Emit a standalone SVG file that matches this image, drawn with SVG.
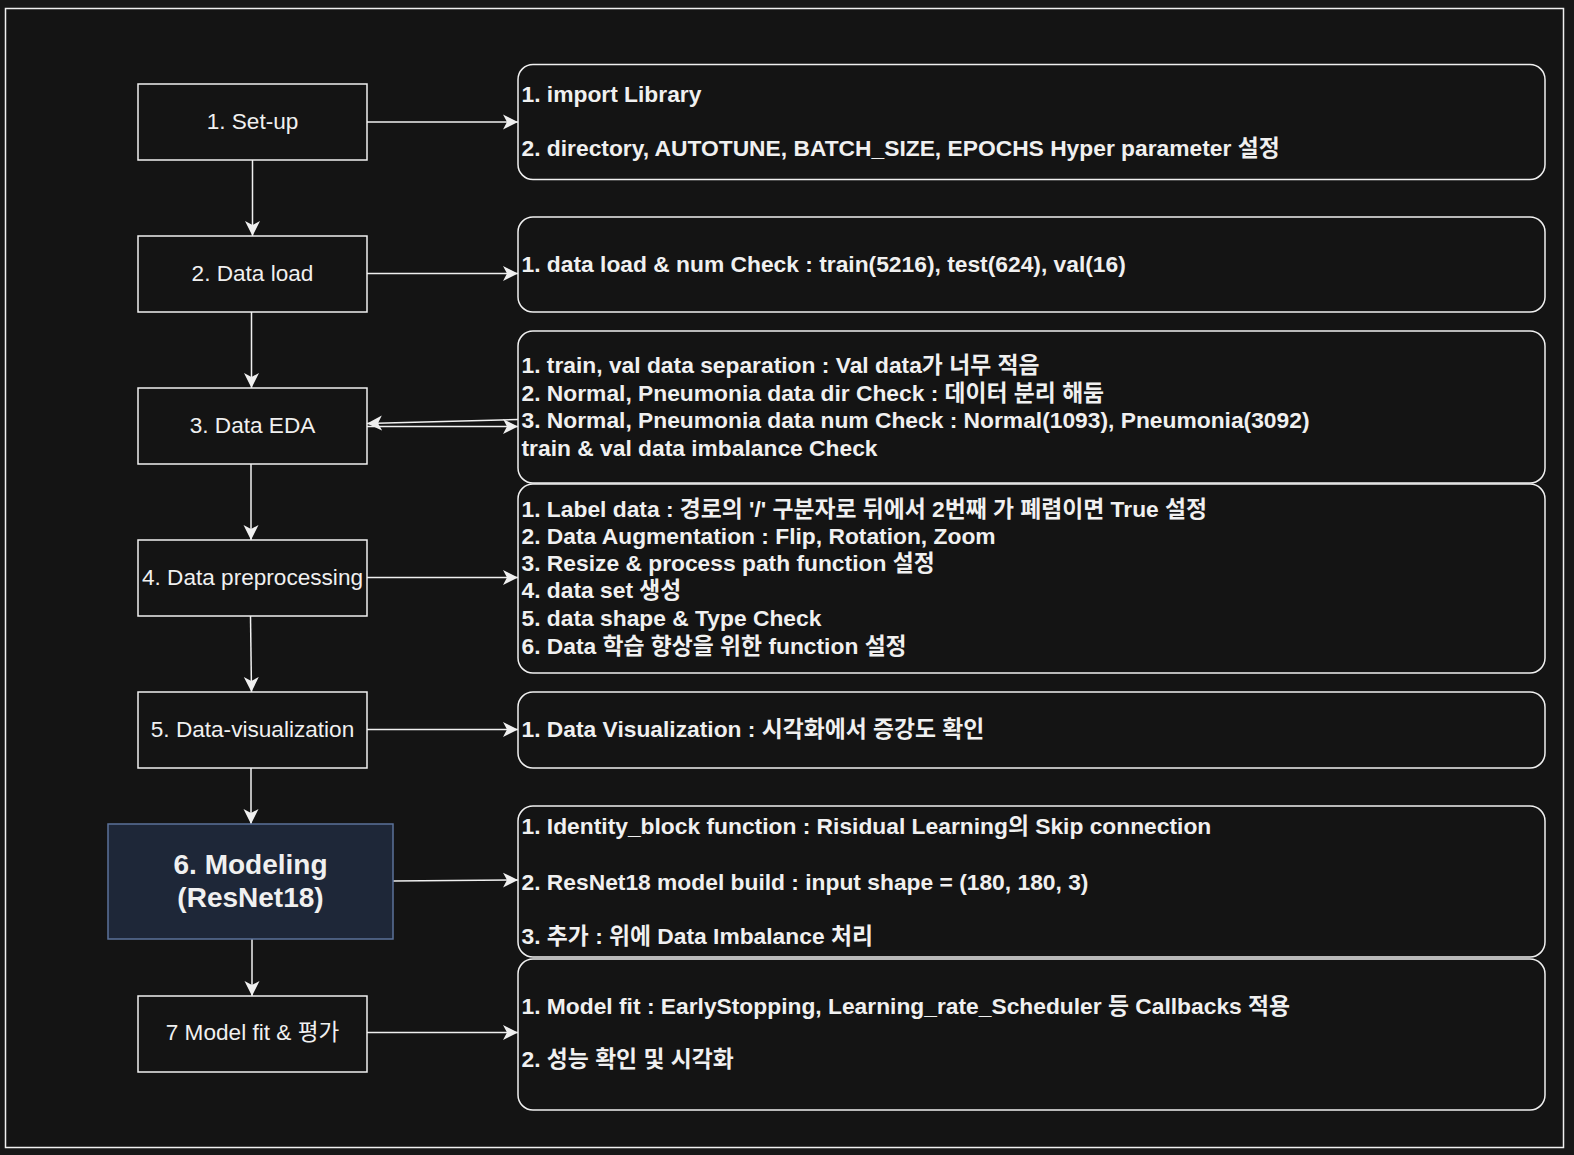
<svg xmlns="http://www.w3.org/2000/svg" width="1574" height="1155" viewBox="0 0 1574 1155">
<style>
.box{fill:#141414;stroke:#f0f0f0;stroke-width:1.5}
.rbox{fill:#141414;stroke:#f0f0f0;stroke-width:1.5}
.lt{font-family:"Liberation Sans","Noto Sans CJK KR",sans-serif;font-size:22.6px;fill:#f0f0f0;text-anchor:middle}
.rt{font-family:"Liberation Sans","Noto Sans CJK KR",sans-serif;font-size:22.8px;font-weight:bold;fill:#f0f0f0}
.edge{fill:none;stroke:#f0f0f0;stroke-width:1.5}
</style>
<defs>
<marker id="arr" viewBox="0 0 16 16" refX="15" refY="8" markerWidth="16" markerHeight="16" markerUnits="userSpaceOnUse" orient="auto">
<path d="M15,8 L0,0.5 L4,8 L0,15.5 Z" fill="#f0f0f0"/>
</marker>
</defs>
<rect x="0" y="0" width="1574" height="1155" fill="#171717"/>
<rect x="5.5" y="8.5" width="1558" height="1139" fill="#141414" stroke="#f0f0f0" stroke-width="1.5"/>

<g id="connectors">
<line class="edge" x1="252.5" y1="160" x2="252.5" y2="236" marker-end="url(#arr)"/>
<line class="edge" x1="251.5" y1="312" x2="251.5" y2="388" marker-end="url(#arr)"/>
<line class="edge" x1="251" y1="464" x2="251" y2="540" marker-end="url(#arr)"/>
<line class="edge" x1="250.5" y1="616" x2="251.5" y2="692" marker-end="url(#arr)"/>
<line class="edge" x1="251" y1="768" x2="251" y2="824" marker-end="url(#arr)"/>
<line class="edge" x1="252" y1="939" x2="252" y2="996" marker-end="url(#arr)"/>
<line class="edge" x1="367" y1="122" x2="518" y2="122" marker-end="url(#arr)"/>
<line class="edge" x1="367" y1="273.5" x2="518" y2="273.5" marker-end="url(#arr)"/>
<line class="edge" x1="518" y1="419.5" x2="367" y2="423.5" marker-end="url(#arr)"/>
<line class="edge" x1="367" y1="426.5" x2="518" y2="426.5" marker-end="url(#arr)"/>
<line class="edge" x1="367" y1="577.5" x2="518" y2="577.5" marker-end="url(#arr)"/>
<line class="edge" x1="367" y1="729.5" x2="518" y2="729.5" marker-end="url(#arr)"/>
<line class="edge" x1="393" y1="881" x2="518" y2="880" marker-end="url(#arr)"/>
<line class="edge" x1="367" y1="1032.5" x2="518" y2="1032.5" marker-end="url(#arr)"/>
</g>

<g id="n1"><rect class="box" x="138" y="84" width="229" height="76"/><text class="lt" x="252.5" y="129">1. Set-up</text></g>
<g id="n2"><rect class="box" x="138" y="236" width="229" height="76"/><text class="lt" x="252.5" y="281">2. Data load</text></g>
<g id="n3"><rect class="box" x="138" y="388" width="229" height="76"/><text class="lt" x="252.5" y="433">3. Data EDA</text></g>
<g id="n4"><rect class="box" x="138" y="540" width="229" height="76"/><text class="lt" x="252.5" y="585">4. Data preprocessing</text></g>
<g id="n5"><rect class="box" x="138" y="692" width="229" height="76"/><text class="lt" x="252.5" y="737">5. Data-visualization</text></g>
<g id="n6"><rect x="108" y="824" width="285" height="115" fill="#1e2738" stroke="#5b7299" stroke-width="1.5"/>
<text class="lt" x="250.5" y="874" style="font-size:28px;font-weight:bold">6. Modeling</text>
<text class="lt" x="250.5" y="907" style="font-size:28px;font-weight:bold">(ResNet18)</text></g>
<g id="n7"><rect class="box" x="138" y="996" width="229" height="76"/><text class="lt" x="252.5" y="1040">7 Model fit &amp; 평가</text></g>

<g id="r1"><rect class="rbox" x="518" y="64.5" width="1027" height="115" rx="15"/>
<text class="rt" x="521.5" y="101.5">1. import Library</text>
<text class="rt" x="521.5" y="155.6">2. directory, AUTOTUNE, BATCH_SIZE, EPOCHS Hyper parameter 설정</text></g>
<g id="r2"><rect class="rbox" x="518" y="217" width="1027" height="95" rx="15"/>
<text class="rt" x="521.5" y="272">1. data load &amp; num Check : train(5216), test(624), val(16)</text></g>
<g id="r3"><rect class="rbox" x="518" y="331" width="1027" height="152" rx="15"/>
<text class="rt" x="521.5" y="372.5">1. train, val data separation : Val data가 너무 적음</text>
<text class="rt" x="521.5" y="400.5">2. Normal, Pneumonia data dir Check : 데이터 분리 해둠</text>
<text class="rt" x="521.5" y="427.7">3. Normal, Pneumonia data num Check : Normal(1093), Pneumonia(3092)</text>
<text class="rt" x="521.5" y="455.7">train &amp; val data imbalance Check</text></g>
<g id="r4"><rect class="rbox" x="518" y="484" width="1027" height="189" rx="15"/>
<text class="rt" x="521.5" y="517">1. Label data : 경로의 '/' 구분자로 뒤에서 2번째 가 폐렴이면 True 설정</text>
<text class="rt" x="521.5" y="544">2. Data Augmentation : Flip, Rotation, Zoom</text>
<text class="rt" x="521.5" y="571">3. Resize &amp; process path function 설정</text>
<text class="rt" x="521.5" y="598">4. data set 생성</text>
<text class="rt" x="521.5" y="626">5. data shape &amp; Type Check</text>
<text class="rt" x="521.5" y="653.5">6. Data 학습 향상을 위한 function 설정</text></g>
<g id="r5"><rect class="rbox" x="518" y="692" width="1027" height="76" rx="15"/>
<text class="rt" x="521.5" y="737">1. Data Visualization : 시각화에서 증강도 확인</text></g>
<g id="r6"><rect class="rbox" x="518" y="806" width="1027" height="151" rx="15"/>
<text class="rt" x="521.5" y="834">1. Identity_block function : Risidual Learning의 Skip connection</text>
<text class="rt" x="521.5" y="889.5">2. ResNet18 model build : input shape = (180, 180, 3)</text>
<text class="rt" x="521.5" y="943.5">3. 추가 : 위에 Data Imbalance 처리</text></g>
<g id="r7"><rect class="rbox" x="518" y="959" width="1027" height="151" rx="15"/>
<text class="rt" x="521.5" y="1014">1. Model fit : EarlyStopping, Learning_rate_Scheduler 등 Callbacks 적용</text>
<text class="rt" x="521.5" y="1067">2. 성능 확인 및 시각화</text></g>
</svg>
